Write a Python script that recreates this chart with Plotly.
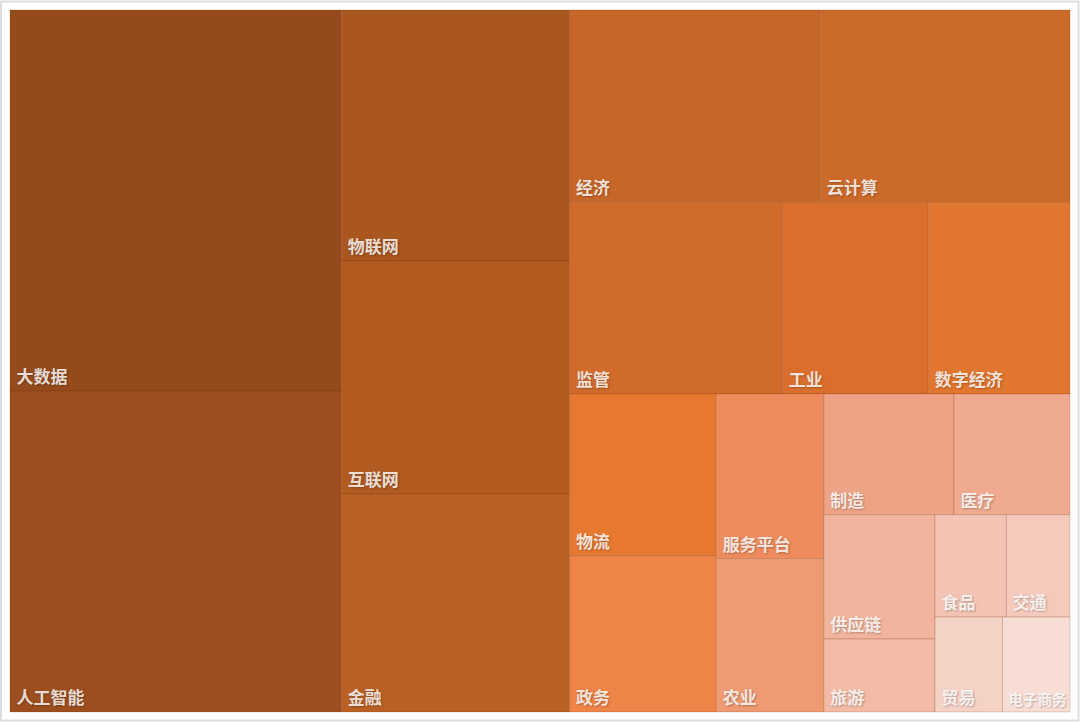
import plotly.graph_objects as go

labels = ["大数据", "人工智能", "物联网", "互联网", "金融", "经济", "云计算", "监管",
          "工业", "数字经济", "物流", "政务", "服务平台", "农业", "制造", "医疗",
          "供应链", "旅游", "食品", "交通", "贸易", "电子商务"]
values = [126.1, 106.3, 57.2, 53.1, 49.7, 48.2, 48.0, 40.7,
          27.9, 27.1, 23.7, 22.9, 17.7, 16.5, 15.7, 14.0,
          13.8, 8.1, 7.3, 6.5, 6.4, 6.4]
colors = ["#954A1C", "#9C4E1E", "#A9561F", "#B15B21", "#B96024", "#C66628", "#CC6A2A", "#D06B2C",
          "#DA6F2D", "#E0762F", "#E67830", "#EE8447", "#EE8C5E", "#EE9A72", "#EFA386", "#F0AA90",
          "#F1B49C", "#F3BBA5", "#F3C4B3", "#F5CABC", "#F5D2C6", "#F8DDD4"]
parents = [""] * len(labels)

fig = go.Figure(go.Treemap(
    labels=labels,
    parents=parents,
    values=values,
    marker=dict(colors=colors, line=dict(width=1, color="rgba(110,45,10,0.20)"),
                pad=dict(t=0, l=0, r=0, b=0)),
    texttemplate="\u2009%{label}",
    textposition="bottom left",
    textfont=dict(family="Noto Sans CJK SC", size=17, color="rgba(255,255,255,0.82)",
                  weight="bold", shadow="1px 1px 2px rgba(0,0,0,0.3)"),
    tiling=dict(packing="squarify", squarifyratio=1, pad=0),
    pathbar=dict(visible=False),
    sort=True,
    hoverinfo="label+value",
))

W, H = 1080, 722
ml, mr, mt, mb = 10, 10, 10, 10
pw, ph = W - ml - mr, H - mt - mb
fig.add_shape(type="rect", xref="paper", yref="paper",
              x0=-9 / pw, x1=1 + 8.5 / pw, y0=-8.5 / ph, y1=1 + 8.5 / ph,
              line=dict(color="#DDDDDD", width=2), fillcolor="rgba(0,0,0,0)", layer="below")

fig.update_layout(
    width=W, height=H,
    margin=dict(l=ml, r=mr, t=mt, b=mb),
    paper_bgcolor="white",
    plot_bgcolor="white",
)

fig.write_html("out.html", config={"displayModeBar": False},
               post_script="document.body.style.margin='0';document.body.style.overflow='hidden';")
